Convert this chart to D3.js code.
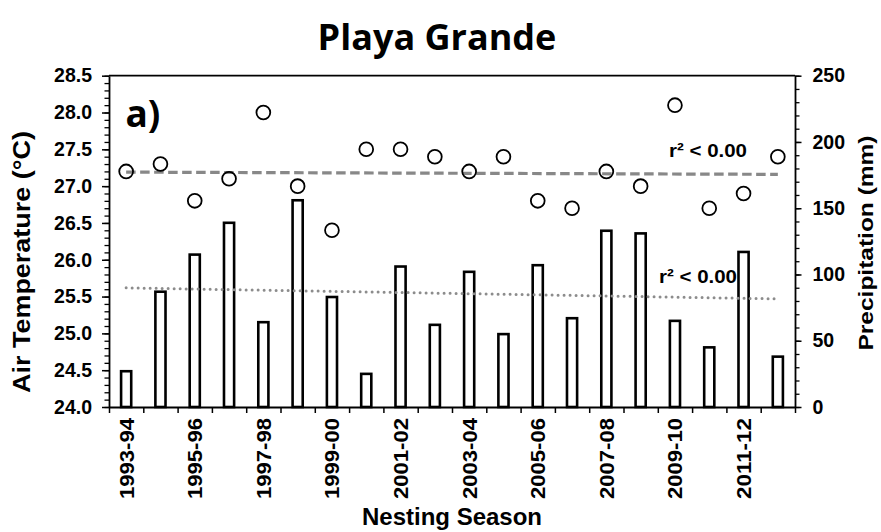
<!DOCTYPE html>
<html>
<head>
<meta charset="utf-8">
<script src="https://cdn.jsdelivr.net/npm/d3@7"></script>
<style>
  html, body { margin: 0; padding: 0; background: #fff; }
  svg { display: block; }
  .ax text { font-family: "Liberation Sans", Arial, sans-serif; font-weight: bold; fill: #000; }
  .ax path, .ax line { stroke: #000; }
</style>
</head>
<body>
<svg id="chart" width="881" height="532"></svg>
<script>
// ---- data ----
const seasons = ["1993-94","1994-95","1995-96","1996-97","1997-98","1998-99","1999-00","2000-01","2001-02","2002-03",
                 "2003-04","2004-05","2005-06","2006-07","2007-08","2008-09","2009-10","2010-11","2011-12","2012-13"];
const airTemp = [27.2, 27.3, 26.8, 27.1, 28.0, 27.0, 26.4, 27.5, 27.5, 27.4,
                 27.2, 27.4, 26.8, 26.7, 27.2, 27.0, 28.1, 26.7, 26.9, 27.4];
const precip  = [27, 87, 115, 139, 64, 156, 83, 25, 106, 62,
                 102, 55, 107, 67, 133, 131, 65, 45, 117, 38];
const tempTrend   = [27.19, 27.16];   // start / end of the dashed trend line
const precipTrend = [89.9, 81.6];     // start / end of the dotted trend line
const tempTicks   = [24.0, 24.5, 25.0, 25.5, 26.0, 26.5, 27.0, 27.5, 28.0, 28.5];
const precipTicks = [0, 50, 100, 150, 200, 250];
const shownLabels = seasons.filter((d, i) => i % 2 === 0);
const r2Text = "r² < 0.00";

// ---- layout ----
const L = 109, R = 795, T = 75.7, B = 407;
const svg = d3.select("#chart");

const x = d3.scaleBand().domain(seasons).range([L, R]).paddingInner(0.705).paddingOuter(0.3525);
const xc = d => x(d) + x.bandwidth() / 2;
const xEdge = d3.scaleLinear().domain([0, seasons.length]).range([L, R]);
const yT = d3.scaleLinear().domain([24, 28.5]).range([B, T]);
const yP = d3.scaleLinear().domain([0, 250]).range([B, T]);

// bars
svg.append("g").selectAll("rect").data(seasons).join("rect")
  .attr("x", d => x(d))
  .attr("width", x.bandwidth())
  .attr("y", (d, i) => yP(precip[i]))
  .attr("height", (d, i) => yP(0) - yP(precip[i]))
  .attr("fill", "#fff").attr("stroke", "#000").attr("stroke-width", 2.6);

// trend lines
const s0 = seasons[0], s1 = seasons[seasons.length - 1];
svg.append("line")
  .attr("x1", xc(s0)).attr("x2", xc(s1))
  .attr("y1", yT(tempTrend[0])).attr("y2", yT(tempTrend[1]))
  .attr("stroke", "#888888").attr("stroke-width", 3.2).attr("stroke-dasharray", "9.5 4.5");
svg.append("line")
  .attr("x1", xc(s0)).attr("x2", xc(s1))
  .attr("y1", yP(precipTrend[0])).attr("y2", yP(precipTrend[1]))
  .attr("stroke", "#8c8c8c").attr("stroke-width", 3).attr("stroke-linecap", "round").attr("stroke-dasharray", "0 6");

// circles
svg.append("g").selectAll("circle").data(seasons).join("circle")
  .attr("cx", d => xc(d))
  .attr("cy", (d, i) => yT(airTemp[i]))
  .attr("r", 6.9)
  .attr("fill", "none").attr("stroke", "#000").attr("stroke-width", 1.8);

// frame top
svg.append("line").attr("x1", L).attr("x2", R).attr("y1", T).attr("y2", T)
  .attr("stroke", "#000").attr("stroke-width", 1.8);

// left axis
const minorT = d3.range(240, 286, 1).map(v => v / 10);
svg.append("g").attr("class", "ax").attr("transform", `translate(${L},0)`)
  .call(d3.axisLeft(yT).tickValues(minorT).tickSize(4.5).tickFormat(""))
  .call(g => g.select(".domain").remove())
  .selectAll("line").attr("stroke-width", 1.3);
svg.append("g").attr("class", "ax").attr("transform", `translate(${L},0)`)
  .call(d3.axisLeft(yT).tickValues(tempTicks).tickSize(7).tickSizeOuter(0).tickPadding(10).tickFormat(d3.format(".1f")))
  .call(g => g.select(".domain").attr("stroke-width", 1.8))
  .call(g => g.selectAll("line").attr("stroke-width", 1.5))
  .call(g => g.selectAll("text").style("font-size", "19.5px"));

// right axis
const minorP = d3.range(0, 251, 10);
svg.append("g").attr("class", "ax").attr("transform", `translate(${R},0)`)
  .call(d3.axisRight(yP).tickValues(minorP).tickSize(4.5).tickFormat(""))
  .call(g => g.select(".domain").remove())
  .selectAll("line").attr("stroke-width", 1.3);
svg.append("g").attr("class", "ax").attr("transform", `translate(${R},0)`)
  .call(d3.axisRight(yP).tickValues(precipTicks).tickSize(6.5).tickSizeOuter(0).tickPadding(11))
  .call(g => g.select(".domain").attr("stroke-width", 1.8))
  .call(g => g.selectAll("line").attr("stroke-width", 1.5))
  .call(g => g.selectAll("text").style("font-size", "19.5px"));

// bottom axis: boundary ticks
svg.append("g").attr("class", "ax").attr("transform", `translate(0,${B})`)
  .call(d3.axisBottom(xEdge).tickValues(d3.range(seasons.length + 1)).tickSize(6).tickSizeOuter(0).tickFormat(""))
  .call(g => g.select(".domain").attr("stroke-width", 1.8))
  .call(g => g.selectAll("line").attr("stroke-width", 1.5));

// bottom axis: labels
svg.append("g").attr("class", "ax").attr("transform", `translate(0,${B})`)
  .call(d3.axisBottom(x).tickValues(shownLabels).tickSize(0).tickPadding(0))
  .call(g => g.select(".domain").remove())
  .call(g => g.selectAll("text")
      .style("font-size", "21px")
      .attr("text-anchor", "end")
      .attr("dy", "0.35em")
      .attr("textLength", 81).attr("lengthAdjust", "spacingAndGlyphs")
      .attr("transform", "translate(0,11) rotate(-90)")
      .attr("y", 0).attr("x", 0));

// axis titles
svg.append("text")
  .attr("transform", "translate(30,262) rotate(-90)")
  .attr("text-anchor", "middle")
  .attr("textLength", 262).attr("lengthAdjust", "spacingAndGlyphs")
  .style("font-family", '"Liberation Sans", Arial, sans-serif').style("font-weight", "bold").style("font-size", "23px")
  .text("Air Temperature (°C)");
svg.append("text")
  .attr("transform", "translate(873,243) rotate(-90)")
  .attr("text-anchor", "middle")
  .attr("textLength", 215).attr("lengthAdjust", "spacingAndGlyphs")
  .style("font-family", '"Liberation Sans", Arial, sans-serif').style("font-weight", "bold").style("font-size", "21px")
  .text("Precipitation (mm)");
svg.append("text")
  .attr("x", 452).attr("y", 525)
  .attr("text-anchor", "middle")
  .style("font-family", '"Liberation Sans", Arial, sans-serif').style("font-weight", "bold").style("font-size", "24px")
  .text("Nesting Season");

// title and panel label
svg.append("text")
  .attr("x", 437).attr("y", 50)
  .attr("text-anchor", "middle")
  .style("font-family", '"Open Sans", sans-serif').style("font-weight", "bold").style("font-size", "36px")
  .text("Playa Grande");
svg.append("text")
  .attr("x", 125.5).attr("y", 127)
  .style("font-family", '"Open Sans", sans-serif').style("font-weight", "bold").style("font-size", "37px")
  .text("a)");

// r² annotations
svg.append("text")
  .attr("x", 669).attr("y", 157)
  .attr("textLength", 78).attr("lengthAdjust", "spacingAndGlyphs")
  .style("font-family", '"Liberation Sans", Arial, sans-serif').style("font-weight", "bold").style("font-size", "19px")
  .text(r2Text);
svg.append("text")
  .attr("x", 659).attr("y", 283)
  .attr("textLength", 78).attr("lengthAdjust", "spacingAndGlyphs")
  .style("font-family", '"Liberation Sans", Arial, sans-serif').style("font-weight", "bold").style("font-size", "19px")
  .text(r2Text);
</script>
</body>
</html>
